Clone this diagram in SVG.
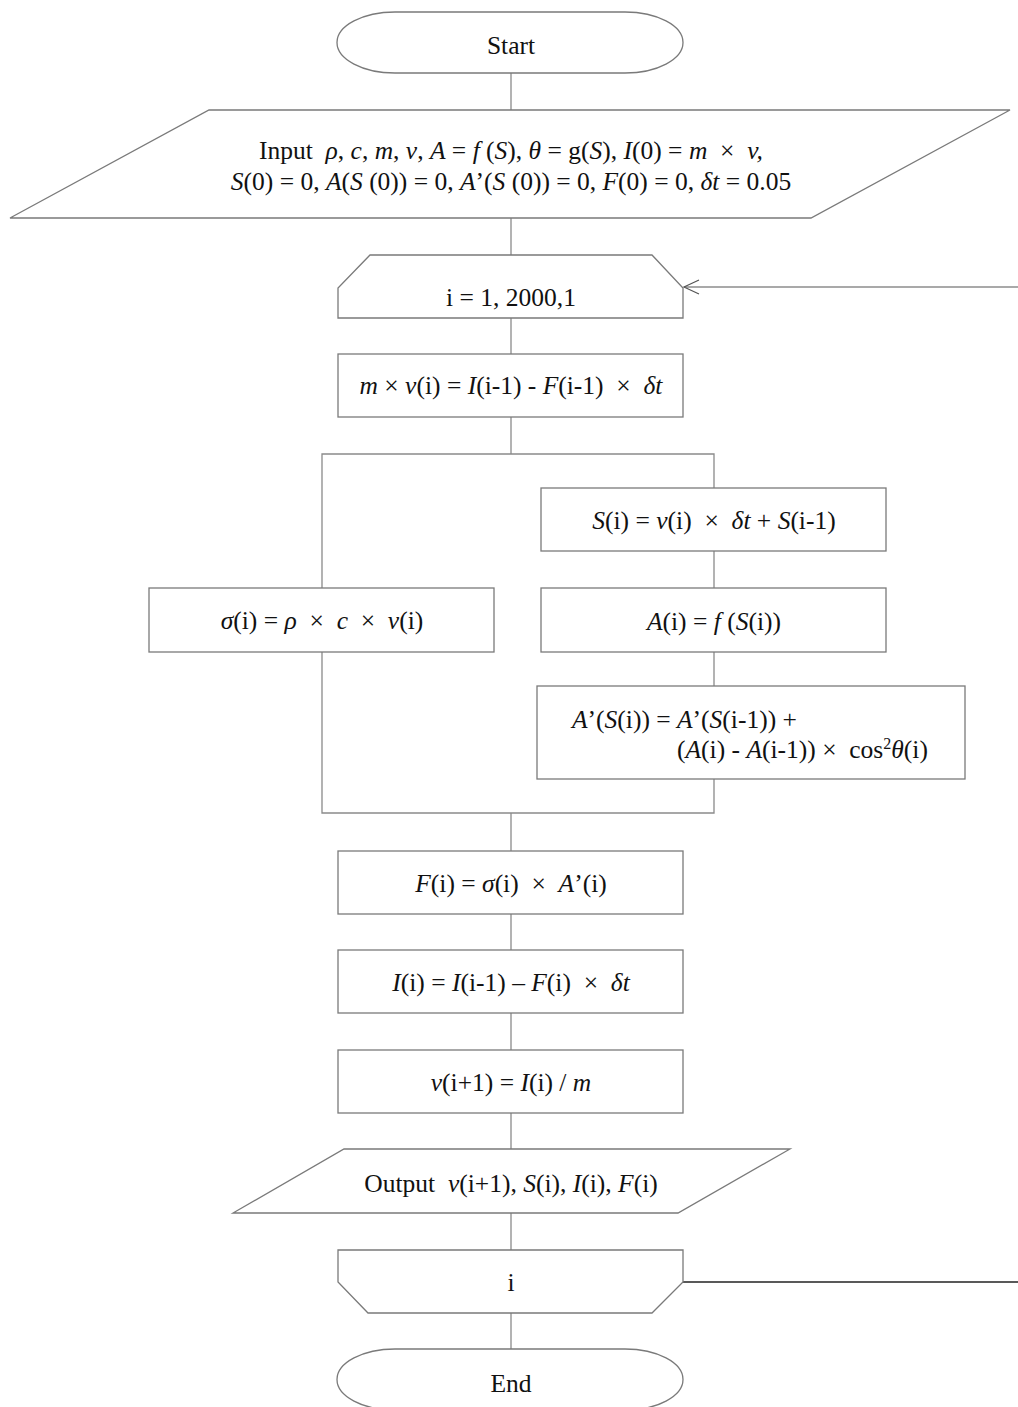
<svg xmlns="http://www.w3.org/2000/svg" width="1018" height="1407" viewBox="0 0 1018 1407">
<style>
.s{fill:#fff;stroke:#7a7a7a;stroke-width:1.3}
.c{fill:none;stroke:#8a8a8a;stroke-width:1.3}
.k{fill:none;stroke:#222;stroke-width:1.3}
text{font-family:"Liberation Serif","Times New Roman",serif;font-size:25.5px;fill:#111;text-anchor:middle;white-space:pre}
.i{font-style:italic}
</style>
<defs>
<marker id="ah" markerWidth="20" markerHeight="20" refX="16" refY="8" orient="auto" markerUnits="userSpaceOnUse">
<path d="M1,1 L16,8 L1,15" fill="none" stroke="#555" stroke-width="1.2"/>
</marker>
</defs>
<g id="connectors">
<line class="c" x1="511" y1="73" x2="511" y2="110"/>
<line class="c" x1="511" y1="218" x2="511" y2="255"/>
<line class="c" x1="511" y1="318" x2="511" y2="354"/>
<line class="c" x1="511" y1="417" x2="511" y2="454"/>
<polyline class="c" points="322,588 322,454 714,454 714,488"/>
<line class="c" x1="714" y1="551" x2="714" y2="588"/>
<line class="c" x1="714" y1="652" x2="714" y2="686"/>
<polyline class="c" points="322,652 322,813 714,813 714,779"/>
<line class="c" x1="511" y1="813" x2="511" y2="851"/>
<line class="c" x1="511" y1="914" x2="511" y2="950"/>
<line class="c" x1="511" y1="1013" x2="511" y2="1050"/>
<line class="c" x1="511" y1="1113" x2="511" y2="1149"/>
<line class="c" x1="511" y1="1213" x2="511" y2="1250"/>
<line class="c" x1="511" y1="1313" x2="511" y2="1349"/>
<line class="k" x1="683" y1="1282" x2="1018" y2="1282"/>
</g>
<g id="start">
<rect class="s" x="337" y="12" width="346" height="61" rx="58" ry="30.5"/>
<text x="511" y="53.5">Start</text>
</g>
<g id="input">
<polygon class="s" points="209,110 1010,110 811,218 10,218"/>
<text x="511" y="158.5">Input  <tspan class="i">ρ</tspan>, <tspan class="i">c</tspan>, <tspan class="i">m</tspan>, <tspan class="i">v</tspan>, <tspan class="i">A</tspan> = <tspan class="i">f</tspan> (<tspan class="i">S</tspan>), <tspan class="i">θ</tspan> = g(<tspan class="i">S</tspan>), <tspan class="i">I</tspan>(0) = <tspan class="i">m</tspan>  ×  <tspan class="i">v,</tspan></text>
<text x="511" y="189.5"><tspan class="i">S</tspan>(0) = 0, <tspan class="i">A</tspan>(<tspan class="i">S</tspan> (0)) = 0, <tspan class="i">A</tspan>’(<tspan class="i">S</tspan> (0)) = 0, <tspan class="i">F</tspan>(0) = 0, <tspan class="i">δt</tspan> = 0.05</text>
</g>
<g id="loopstart">
<polygon class="s" points="370,255 652,255 683,288 683,318 338,318 338,288"/>
<text x="511" y="305.5">i = 1, 2000,1</text>
</g>
<g id="momentum">
<rect class="s" x="338" y="354" width="345" height="63"/>
<text x="511" y="393.5"><tspan class="i">m</tspan> × <tspan class="i">v</tspan>(i) = <tspan class="i">I</tspan>(i-1) - <tspan class="i">F</tspan>(i-1)  ×  <tspan class="i">δt</tspan></text>
</g>
<g id="disp">
<rect class="s" x="541" y="488" width="345" height="63"/>
<text x="714" y="528.5"><tspan class="i">S</tspan>(i) = <tspan class="i">v</tspan>(i)  ×  <tspan class="i">δt</tspan> + <tspan class="i">S</tspan>(i-1)</text>
</g>
<g id="stress">
<rect class="s" x="149" y="588" width="345" height="64"/>
<text x="322" y="628.5"><tspan class="i">σ</tspan>(i) = <tspan class="i">ρ</tspan>  ×  <tspan class="i">c</tspan>  ×  <tspan class="i">v</tspan>(i)</text>
</g>
<g id="area">
<rect class="s" x="541" y="588" width="345" height="64"/>
<text x="714" y="629.5"><tspan class="i">A</tspan>(i) = <tspan class="i">f</tspan> (<tspan class="i">S</tspan>(i))</text>
</g>
<g id="projarea">
<rect class="s" x="537" y="686" width="428" height="93"/>
<text x="572" y="728" style="text-anchor:start"><tspan class="i">A</tspan>’(<tspan class="i">S</tspan>(i)) = <tspan class="i">A</tspan>’(<tspan class="i">S</tspan>(i-1)) +</text>
<text x="677" y="757.5" style="text-anchor:start">(<tspan class="i">A</tspan>(i) - <tspan class="i">A</tspan>(i-1)) ×  cos<tspan font-size="16" dy="-9">2</tspan><tspan class="i" dy="9">θ</tspan>(i)</text>
</g>
<g id="force">
<rect class="s" x="338" y="851" width="345" height="63"/>
<text x="511" y="891.5"><tspan class="i">F</tspan>(i) = <tspan class="i">σ</tspan>(i)  ×  <tspan class="i">A</tspan>’(i)</text>
</g>
<g id="impulse">
<rect class="s" x="338" y="950" width="345" height="63"/>
<text x="511" y="990.5"><tspan class="i">I</tspan>(i) = <tspan class="i">I</tspan>(i-1) – <tspan class="i">F</tspan>(i)  ×  <tspan class="i">δt</tspan></text>
</g>
<g id="velocity">
<rect class="s" x="338" y="1050" width="345" height="63"/>
<text x="511" y="1090.5"><tspan class="i">v</tspan>(i+1) = <tspan class="i">I</tspan>(i) / <tspan class="i">m</tspan></text>
</g>
<g id="output">
<polygon class="s" points="344,1149 790,1149 678,1213 233,1213"/>
<text x="511" y="1191.5">Output  <tspan class="i">v</tspan>(i+1), <tspan class="i">S</tspan>(i), <tspan class="i">I</tspan>(i), <tspan class="i">F</tspan>(i)</text>
</g>
<g id="loopend">
<polygon class="s" points="338,1250 683,1250 683,1282 652,1313 368,1313 338,1282"/>
<text x="511" y="1290.5">i</text>
</g>
<g id="end">
<rect class="s" x="337" y="1349" width="346" height="61" rx="58" ry="30.5"/>
<text x="511" y="1391.5">End</text>
</g>
<g id="loopback">
<line x1="1018" y1="287" x2="684" y2="287" stroke="#555" stroke-width="1.2" marker-end="url(#ah)"/>
</g>
</svg>
